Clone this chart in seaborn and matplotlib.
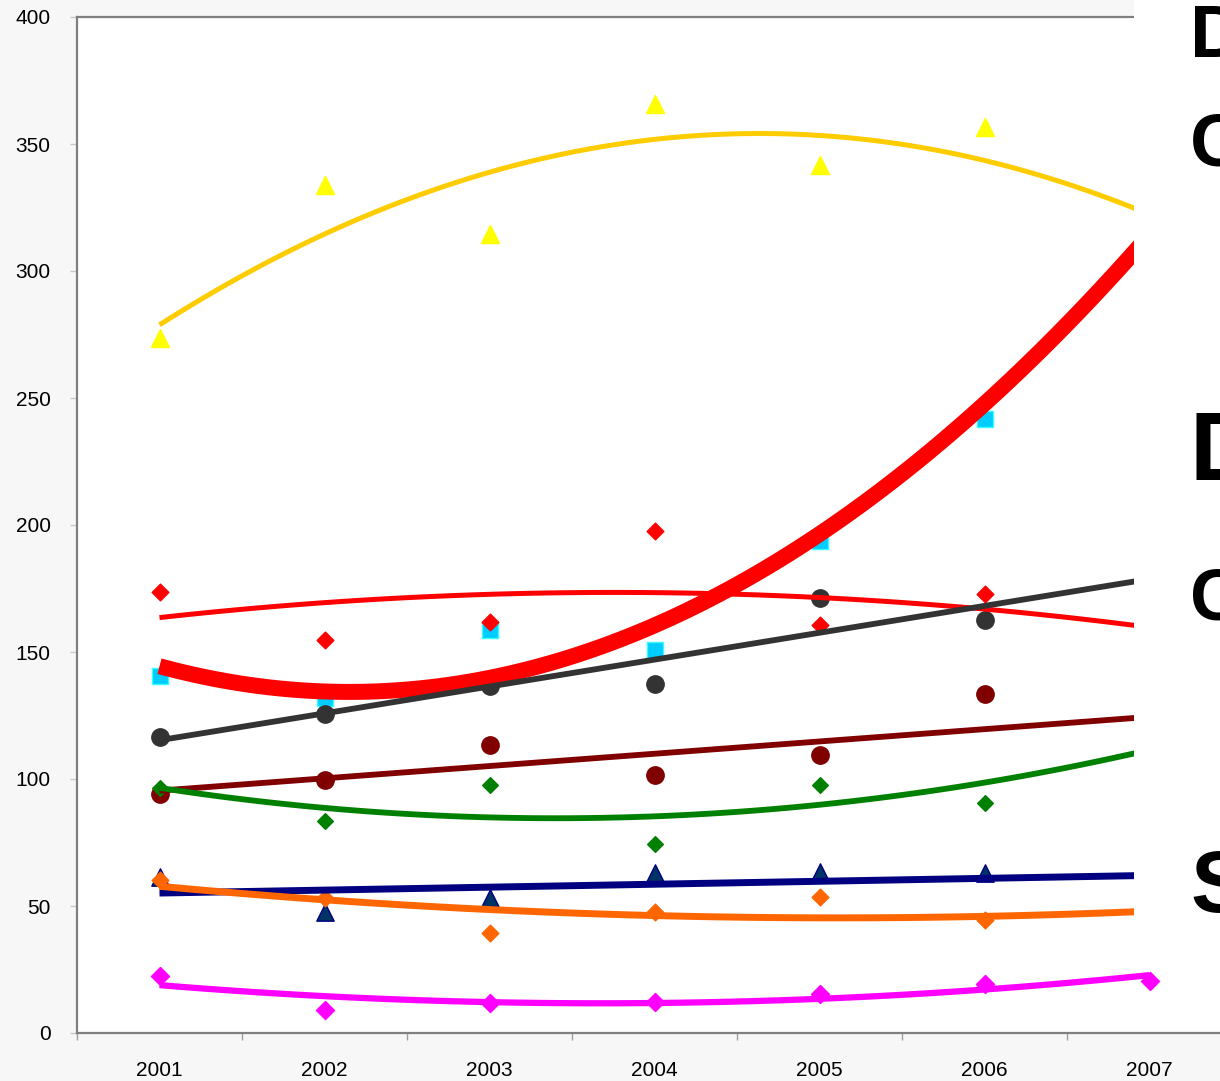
import matplotlib
matplotlib.use('Agg')
import matplotlib.pyplot as plt
from matplotlib.patches import Rectangle
import seaborn as sns

# categories (x = 1..7 on a category axis, as in the Excel original)
years = ['2001', '2002', '2003', '2004', '2005', '2006', '2007']
xpos = [1, 2, 3, 4, 5, 6, 7]

# series values (2007 mostly hidden behind the text box)
yellow_tri = [273.6, 333.9, 314.6, 365.7, 341.7, 356.7, 317.0]
cyan_sq = [140.6, 132.0, 158.7, 150.8, 193.7, 241.7, 320.0]
red_dia = [173.6, 154.7, 161.8, 197.6, 160.6, 172.8, 156.0]
gray_dot = [116.5, 125.6, 136.6, 137.4, 171.3, 162.6, 179.0]
maroon_dot = [94.1, 99.6, 113.4, 101.6, 109.4, 133.5, 118.0]
green_dia = [96.5, 83.5, 97.6, 74.4, 97.6, 90.6, 115.0]
navy_tri = [61.4, 47.6, 53.1, 63.0, 63.4, 63.0, 58.5]
orange_dia = [60.2, 53.1, 39.4, 47.6, 53.5, 44.5, 46.0]
pink_dia = [22.4, 9.1, 11.8, 12.2, 15.4, 19.3, 20.5]

y_ticks = [0, 50, 100, 150, 200, 250, 300, 350, 400]
side_words = ['D', 'C', 'D', 'C', 'S']

plt.rcParams['font.family'] = ['Liberation Sans', 'DejaVu Sans']

fig = plt.figure(figsize=(12.2, 10.81), dpi=100, facecolor='#f7f7f7')
ax = fig.add_axes([77 / 1220, 48 / 1081, 1155 / 1220, 1016 / 1081])
ax.set_facecolor('white')

# (values, order, marker, size, face, edge, line colour, line width)
series = [
    (yellow_tri, 2, '^', 13, '#ffff00', '#ffff00', '#ffcc00', 3.6),
    (cyan_sq, 2, 's', 11, '#00ccff', '#33ffff', '#ff0000', 11.5),
    (red_dia, 2, 'D', 8.5, '#ff0000', '#ff0000', '#ff0000', 3.6),
    (gray_dot, 1, 'o', 12.5, '#333333', '#333333', '#333333', 4.2),
    (maroon_dot, 1, 'o', 12.5, '#800000', '#800000', '#800000', 4.2),
    (green_dia, 2, 'D', 8, '#008000', '#008000', '#008000', 4.2),
    (navy_tri, 1, '^', 12.5, '#003366', '#000080', '#000080', 5.0),
    (orange_dia, 2, 'D', 8.5, '#ff6600', '#ff6600', '#ff6600', 5.0),
    (pink_dia, 2, 'D', 9.2, '#ff00ff', '#ff00ff', '#ff00ff', 4.5),
]

for vals, order, mk, ms, face, edge, lc, lw in series:
    sns.regplot(x=xpos, y=vals, order=order, ci=None, marker=mk, ax=ax,
                scatter_kws={'s': ms ** 2, 'color': face, 'edgecolor': edge,
                             'linewidths': 1, 'alpha': 1, 'zorder': 2},
                line_kws={'color': lc, 'lw': lw, 'zorder': 3,
                          'solid_capstyle': 'butt'})

ax.set_xlim(0.5, 7.5)
ax.set_ylim(0, 400)
ax.set_xlabel('')
ax.set_ylabel('')
ax.set_xticks(xpos)
ax.set_xticklabels(years, fontsize=15)
ax.set_xticks([v + 0.5 for v in range(8)], minor=True)
ax.tick_params(axis='x', which='major', length=0, pad=20)
ax.tick_params(axis='x', which='minor', length=5, width=1, color='#a0a0a0')
ax.set_yticks(y_ticks)
ax.set_yticklabels([str(v) for v in y_ticks], fontsize=15)
ax.tick_params(axis='y', length=5, width=1, color='#c8c8c8', pad=14)

for side in ['left', 'bottom', 'top']:
    ax.spines[side].set_color('#808080')
    ax.spines[side].set_linewidth(1.6)
ax.spines['right'].set_visible(False)

# white text box on the right that hides the end of the plot
fig.add_artist(Rectangle((1134 / 1220, (1081 - 945) / 1081), 0.2, 1,
                         transform=fig.transFigure, facecolor='white',
                         edgecolor='none', zorder=5))

# (baseline y in px, font size)
word_pos = [(57, 54), (165, 54), (480, 70), (619, 52), (912, 63)]
for w, (yb, fs) in zip(side_words, word_pos):
    fig.text(1190 / 1220, (1081 - yb) / 1081, w, fontsize=fs,
             fontweight='bold', va='baseline', ha='left', zorder=6)

fig.savefig('out.png', dpi=100, facecolor=fig.get_facecolor())
